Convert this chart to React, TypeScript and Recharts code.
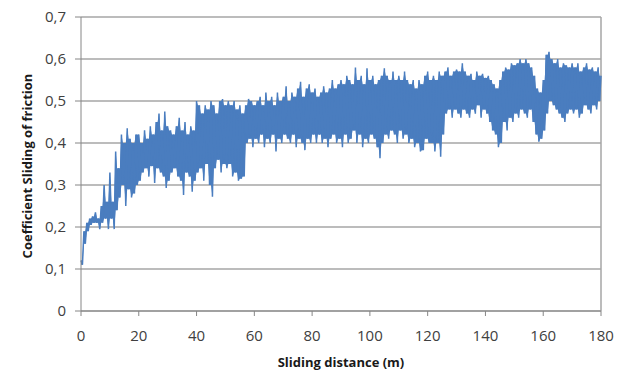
import { ComposedChart, Line, Area, XAxis, YAxis, CartesianGrid, ReferenceLine } from 'recharts';

// friction trace, read as upper/lower envelope of the noisy signal (one value per metre)
const peaks = [
  0.12, 0.19, 0.21, 0.22, 0.225, 0.235, 0.22, 0.25, 0.30, 0.26, 0.33,
  0.26, 0.38, 0.34, 0.42, 0.40, 0.435, 0.41, 0.40, 0.42, 0.42,
  0.40, 0.43, 0.41, 0.44, 0.42, 0.45, 0.47, 0.43, 0.475, 0.44,
  0.43, 0.42, 0.44, 0.46, 0.43, 0.45, 0.42, 0.44, 0.43, 0.50,
  0.49, 0.47, 0.49, 0.48, 0.50, 0.49, 0.47, 0.50, 0.505, 0.49,
  0.50, 0.49, 0.50, 0.48, 0.49, 0.47, 0.49, 0.505, 0.50, 0.49,
  0.50, 0.51, 0.49, 0.52, 0.50, 0.51, 0.49, 0.52, 0.50, 0.51,
  0.535, 0.50, 0.52, 0.51, 0.53, 0.546, 0.51, 0.53, 0.54, 0.52,
  0.53, 0.51, 0.52, 0.535, 0.52, 0.53, 0.55, 0.53, 0.54, 0.55,
  0.54, 0.56, 0.55, 0.54, 0.58, 0.55, 0.56, 0.54, 0.578, 0.55,
  0.56, 0.54, 0.55, 0.56, 0.578, 0.56, 0.55, 0.57, 0.55, 0.56,
  0.55, 0.57, 0.55, 0.54, 0.55, 0.53, 0.55, 0.54, 0.56, 0.57,
  0.55, 0.56, 0.55, 0.57, 0.56, 0.57, 0.58, 0.56, 0.57, 0.575,
  0.57, 0.59, 0.57, 0.56, 0.565, 0.55, 0.57, 0.56, 0.565, 0.555,
  0.56, 0.55, 0.54, 0.53, 0.55, 0.57, 0.58, 0.575, 0.59, 0.585,
  0.59, 0.60, 0.59, 0.60, 0.59, 0.58, 0.56, 0.53, 0.52, 0.55,
  0.61, 0.617, 0.60, 0.59, 0.60, 0.58, 0.59, 0.585, 0.58, 0.59,
  0.58, 0.59, 0.57, 0.58, 0.59, 0.575, 0.58, 0.57, 0.58, 0.56,
];

// troughs sit half a metre after each peak
const troughs = [
  0.11, 0.16, 0.19, 0.205, 0.21, 0.21, 0.195, 0.21, 0.22, 0.195,
  0.22, 0.195, 0.24, 0.27, 0.30, 0.25, 0.29, 0.27, 0.28, 0.30,
  0.31, 0.33, 0.34, 0.32, 0.345, 0.305, 0.34, 0.33, 0.32, 0.293,
  0.31, 0.33, 0.34, 0.32, 0.31, 0.276, 0.33, 0.32, 0.284, 0.31,
  0.33, 0.34, 0.31, 0.35, 0.30, 0.272, 0.34, 0.36, 0.33, 0.35,
  0.34, 0.35, 0.32, 0.33, 0.31, 0.315, 0.32, 0.40, 0.41, 0.39,
  0.41, 0.40, 0.42, 0.39, 0.41, 0.40, 0.42, 0.38, 0.41, 0.40,
  0.42, 0.41, 0.40, 0.42, 0.39, 0.41, 0.40, 0.383, 0.41, 0.40,
  0.42, 0.40, 0.42, 0.40, 0.41, 0.39, 0.41, 0.42, 0.40, 0.41,
  0.39, 0.42, 0.40, 0.41, 0.43, 0.40, 0.42, 0.39, 0.41, 0.40,
  0.42, 0.41, 0.39, 0.364, 0.40, 0.42, 0.41, 0.43, 0.42, 0.40,
  0.43, 0.41, 0.42, 0.40, 0.41, 0.39, 0.40, 0.38, 0.383, 0.41,
  0.40, 0.40, 0.38, 0.40, 0.367, 0.42, 0.47, 0.48, 0.46, 0.48,
  0.47, 0.46, 0.48, 0.47, 0.46, 0.48, 0.47, 0.49, 0.46, 0.48,
  0.47, 0.45, 0.43, 0.42, 0.39, 0.40, 0.45, 0.43, 0.46, 0.45,
  0.47, 0.46, 0.48, 0.47, 0.46, 0.48, 0.45, 0.42, 0.403, 0.41,
  0.43, 0.47, 0.50, 0.49, 0.48, 0.47, 0.46, 0.45, 0.47, 0.48,
  0.47, 0.48, 0.46, 0.47, 0.49, 0.48, 0.47, 0.49, 0.48, 0.50,
];

const xTicks = [0, 20, 40, 60, 80, 100, 120, 140, 160, 180];
const yTicks = [0, 0.1, 0.2, 0.3, 0.4, 0.5, 0.6, 0.7];

// zigzag trace plus a filled core so the dense band reads solid like the original
const data: { d: number; mu: number; band: [number, number] }[] = [];
peaks.forEach((p, i) => {
  const prevT = troughs[i - 1] ?? troughs[i];
  const nextT = troughs[i] ?? prevT;
  data.push({ d: i, mu: p, band: [Math.max(prevT, nextT), p] });
  if (i < troughs.length) {
    const t = troughs[i];
    data.push({ d: i + 0.5, mu: t, band: [t, Math.min(p, peaks[i + 1])] });
  }
});

const font = '"Open Sans", sans-serif';
const gridColor = '#a6a6a6';
const axisColor = '#868686';
const textColor = '#404040';
const blue = '#4a7dbf';

const fmt = (v: number) => (v === 0 ? '0' : v.toFixed(1).replace('.', ','));

export default function App() {
  return (
    <div style={{ position: 'absolute', left: 0, top: 0, background: '#fff' }}>
      <ComposedChart width={625} height={371} data={data} margin={{ top: 17, right: 24, left: 0, bottom: 0 }}>
        <CartesianGrid vertical={false} stroke={gridColor} strokeWidth={1.5} />
        <XAxis
          dataKey="d"
          type="number"
          domain={[0, 180]}
          ticks={xTicks}
          height={60}
          stroke={axisColor}
          tickSize={5}
          tickMargin={14}
          tick={{ fill: textColor, fontSize: 15, fontFamily: font }}
          label={{
            value: 'Sliding distance (m)',
            position: 'insideBottom',
            offset: 4,
            style: { fill: '#1a1a1a', fontSize: 13, fontWeight: 700, fontFamily: font },
          }}
        />
        <YAxis
          type="number"
          domain={[0, 0.7]}
          ticks={yTicks}
          width={81}
          stroke={axisColor}
          tickSize={6}
          tickMargin={9}
          tickFormatter={fmt}
          tick={{ fill: textColor, fontSize: 15, fontFamily: font }}
          label={{
            content: () => (
              <text
                x={32}
                y={166}
                transform="rotate(-90 32 166)"
                textAnchor="middle"
                fill="#1a1a1a"
                fontSize={13}
                fontWeight={700}
                fontFamily={font}
              >
                Coefficient Sliding of friction
              </text>
            ),
          }}
        />
        <ReferenceLine x={180} stroke={gridColor} strokeWidth={1.5} />
        <Area
          type="linear"
          dataKey="band"
          stroke="none"
          fill={blue}
          fillOpacity={1}
          isAnimationActive={false}
        />
        <Line
          type="linear"
          dataKey="mu"
          stroke={blue}
          strokeWidth={1.5}
          dot={false}
          isAnimationActive={false}
        />
      </ComposedChart>
    </div>
  );
}
